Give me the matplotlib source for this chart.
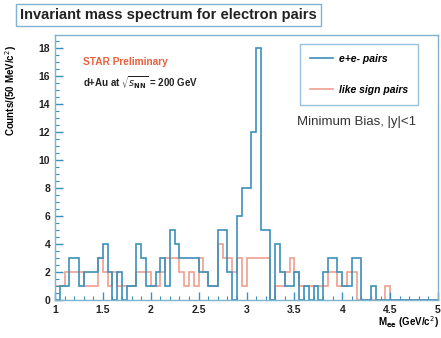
import numpy as np
import matplotlib
matplotlib.use("Agg")
import matplotlib.pyplot as plt
from matplotlib.ticker import MultipleLocator

# 50 MeV bins from 1 to 5 GeV/c^2
edges = np.round(np.arange(1.0, 5.0001, 0.05), 2)

# unlike-sign (e+e-) pairs
ee_pairs = [0, 1, 1, 3, 3, 1, 2, 2, 2, 3,
            4, 2, 0, 2, 0, 1, 1, 4, 3, 1,
            1, 2, 3, 1, 5, 4, 3, 3, 3, 3,
            2, 2, 1, 1, 5, 5, 2, 0, 6, 8,
            8, 12, 18, 5, 5, 0, 4, 2, 1, 1,
            2, 0, 1, 0, 1, 0, 2, 3, 3, 2,
            1, 1, 3, 3, 0, 0, 1, 0, 0, 0,
            0, 0, 0, 0, 0, 0, 0, 0, 0, 0]

# like-sign pairs
like_sign = [1, 1, 2, 2, 2, 2, 1, 1, 1, 3,
             2, 1, 2, 1, 1, 1, 1, 2, 2, 2,
             1, 1, 2, 3, 3, 3, 2, 1, 2, 1,
             3, 2, 1, 1, 4, 3, 3, 2, 3, 1,
             3, 3, 3, 3, 3, 0, 1, 1, 2, 3,
             2, 1, 1, 1, 1, 1, 1, 2, 2, 1,
             1, 2, 2, 0, 0, 0, 0, 0, 0, 1,
             0, 0, 0, 0, 0, 0, 0, 0, 0, 0]

blue = "#3d8fba"
red = "#eda08e"
frame = "#7fb3d0"

plt.rcParams['font.family'] = ['Liberation Sans', 'DejaVu Sans']

fig = plt.figure(figsize=(4.41, 3.38), dpi=100)
ax = fig.add_axes([55/441, 1 - 300/338, (438 - 55)/441, (300 - 35)/338])

ax.stairs(like_sign, edges, color=red, lw=1.2, label="like sign pairs")
ax.stairs(ee_pairs, edges, color=blue, lw=1.2, label="e+e- pairs")

ax.set_xlim(1, 5)
ax.set_ylim(0, 18.93)
ax.xaxis.set_major_locator(MultipleLocator(0.5))
ax.xaxis.set_minor_locator(MultipleLocator(0.1))
ax.yaxis.set_major_locator(MultipleLocator(2))
ax.yaxis.set_minor_locator(MultipleLocator(0.5))
ax.xaxis.set_major_formatter(plt.FuncFormatter(lambda v, p: f"{v:g}"))
ax.tick_params(which="both", direction="in", color=blue, top=False, right=False,
               labelsize=7.5, labelcolor="#222222")
ax.tick_params(which="major", length=6, width=1)
ax.tick_params(which="minor", length=3, width=0.8)
for lab in ax.get_xticklabels() + ax.get_yticklabels():
    lab.set_fontweight("bold")
for s in ax.spines.values():
    s.set_color(frame)
    s.set_linewidth(1)

ax.set_ylabel("Counts/(50 MeV/c$^2$)", fontsize=7, fontweight="bold", labelpad=4)
ax.yaxis.set_label_coords(-0.095, 0.79)
fig.text(0.995, 0.025, r"M$_{\mathbf{ee}}$ (GeV/c$^2$)", ha="right", va="bottom",
         fontsize=7, fontweight="bold")

# title box
fig.text(20/441, 1 - 15/338, "Invariant mass spectrum for electron pairs",
         fontsize=10.5, fontweight="bold", va="center", ha="left", color="#222222",
         bbox=dict(boxstyle="square,pad=0.3", fc="white", ec=frame, lw=1))

ax.text(0.072, 0.898, "STAR Preliminary", transform=ax.transAxes, color="#e8603c",
        fontsize=7.3, fontweight="bold", va="center")
ax.text(0.072, 0.819, r"d+Au at $\sqrt{s_{\mathbf{NN}}}$ = 200 GeV", transform=ax.transAxes,
        fontsize=7, fontweight="bold", va="center", color="#222222")

handles, labels = ax.get_legend_handles_labels()
leg = ax.legend(handles[::-1], labels[::-1], loc="upper left", bbox_to_anchor=(0.627, 0.985),
                frameon=True, fancybox=False, edgecolor=frame,
                prop=dict(weight="bold", style="italic", size=7.5),
                handlelength=2.2, labelspacing=2.0, borderpad=0.95, handletextpad=0.6)
leg.get_frame().set_linewidth(1)

ax.text(0.632, 0.672, "Minimum Bias, |y|<1", transform=ax.transAxes, fontsize=9.5,
        va="center", color="#333333")

fig.savefig("out.png", dpi=100)
